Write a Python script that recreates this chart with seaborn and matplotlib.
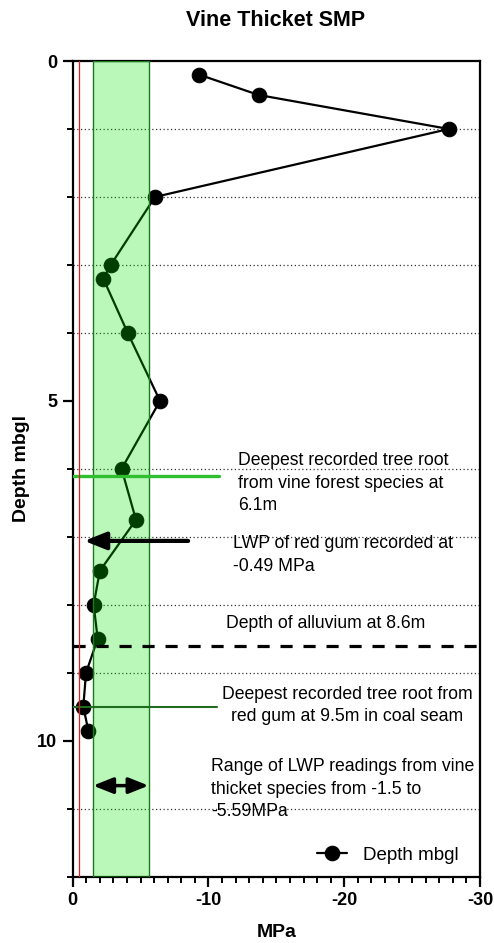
import matplotlib
matplotlib.use("Agg")
import matplotlib.pyplot as plt
import seaborn as sns
import numpy as np
import pandas as pd
from matplotlib.ticker import MultipleLocator, FixedLocator

# Soil matric potential profile (MPa) against depth below ground level (m)
depth_m = [0.2, 0.5, 1.0, 2.0, 3.0, 3.2, 4.0, 5.0, 6.0, 6.75, 7.5, 8.0, 8.5, 9.0, 9.5, 9.85]
smp_mpa = [-9.3, -13.7, -27.7, -6.06, -2.8, -2.25, -4.05, -6.43, -3.6, -4.66, -2.0, -1.54, -1.84, -0.98, -0.78, -1.15]

# Reference values quoted in the annotations
red_gum_lwp = -0.49
vine_lwp_range = (-1.5, -5.59)
vine_root_depth = 6.1
red_gum_root_depth = 9.5
alluvium_depth = 8.6

x_ticks = [0, -10, -20, -30]
y_ticks = [0, 5, 10]

sns.set_style("white")
plt.rcParams["font.family"] = ["Liberation Sans", "DejaVu Sans"]
plt.rcParams["text.color"] = "black"
plt.rcParams["axes.labelcolor"] = "black"
plt.rcParams["xtick.color"] = "black"
plt.rcParams["ytick.color"] = "black"

df = pd.DataFrame({"MPa": smp_mpa, "Depth mbgl": depth_m})

fig = plt.figure(figsize=(4.94, 9.43), dpi=100)
ax = fig.add_axes([0.1472, 0.0703, 0.8245, 0.8650])

sns.lineplot(data=df, x="MPa", y="Depth mbgl", sort=False, estimator=None,
             color="black", lw=1.6, marker="o", markersize=10.5,
             markeredgecolor="black", label="Depth mbgl", ax=ax, zorder=3)

ax.set_xlim(0, -30)
ax.set_ylim(12, 0)

# dotted guides at the minor depth ticks
for d in [1, 2, 3, 4, 6, 7, 8, 9, 11]:
    ax.axhline(d, color="#333333", lw=0.9, linestyle=(0, (1, 2)), zorder=1)

# LWP range band for vine thicket species
ax.axvspan(vine_lwp_range[0], vine_lwp_range[1], facecolor=(0.0, 0.9, 0.0, 0.27),
           edgecolor="#1c7a1c", lw=1.0, zorder=4)

# red gum LWP
ax.axvline(red_gum_lwp, color="#e02020", lw=0.9, zorder=6)

# rooting depths and alluvium depth
ax.plot([0, -10.8], [vine_root_depth, vine_root_depth], color="#2fbf2f", lw=2.4, zorder=5)
ax.plot([0, -10.6], [red_gum_root_depth, red_gum_root_depth], color="#1f6b1f", lw=1.5, zorder=5)
ax.axhline(alluvium_depth, color="black", lw=2.3, linestyle=(0, (3.8, 3.4)), zorder=5)

# arrows
ax.annotate("", xy=(-0.85, 7.06), xytext=(-8.5, 7.06),
            arrowprops=dict(arrowstyle="-|>,head_length=0.55,head_width=0.22",
                            lw=3, color="black", mutation_scale=24, shrinkA=0, shrinkB=0),
            zorder=7)
ax.annotate("", xy=(vine_lwp_range[0], 10.66), xytext=(vine_lwp_range[1], 10.66),
            arrowprops=dict(arrowstyle="<|-|>,head_length=0.5,head_width=0.2",
                            lw=2.5, color="black", mutation_scale=24, shrinkA=0, shrinkB=0),
            zorder=7)

txt = dict(fontsize=12.7, color="black", linespacing=1.42, zorder=8)
ax.text(-12.15, 5.755, "Deepest recorded tree root\nfrom vine forest species at\n6.1m",
        ha="left", va="top", **txt)
ax.text(-11.8, 6.975, "LWP of red gum recorded at\n-0.49 MPa", ha="left", va="top", **txt)
ax.text(-11.27, 8.155, "Depth of alluvium at 8.6m", ha="left", va="top", **txt)
ax.text(-20.2, 9.195, "Deepest recorded tree root from\nred gum at 9.5m in coal seam",
        ha="center", va="top", multialignment="center", **txt)
ax.text(-10.18, 10.255, "Range of LWP readings from vine\nthicket species from -1.5 to\n-5.59MPa",
        ha="left", va="top", **txt)

# axes styling
ax.xaxis.set_major_locator(FixedLocator(x_ticks))
ax.xaxis.set_minor_locator(MultipleLocator(1))
ax.yaxis.set_major_locator(FixedLocator(y_ticks))
ax.yaxis.set_minor_locator(MultipleLocator(1))
ax.tick_params(axis="both", which="major", length=7, width=1.6, direction="out",
               labelsize=13, pad=4, left=True, bottom=True)
ax.tick_params(axis="both", which="minor", length=4, width=1.4, direction="out",
               left=True, bottom=True)
ax.set_xticklabels([str(v) for v in x_ticks], fontweight="bold")
ax.set_yticklabels([str(v) for v in y_ticks], fontweight="bold")
for s in ax.spines.values():
    s.set_visible(True)
    s.set_color("black")
    s.set_linewidth(1.6)
ax.grid(False)

ax.set_xlabel("MPa", fontsize=14, fontweight="bold", labelpad=11)
ax.set_ylabel("Depth mbgl", fontsize=14, fontweight="bold", labelpad=5)
fig.text(276 / 494, 1 - 21 / 943, "Vine Thicket SMP", ha="center", va="center",
         fontsize=15.5, fontweight="bold")

leg = ax.legend(loc="lower right", bbox_to_anchor=(0.99, -0.005), frameon=False,
                fontsize=13.5, handlelength=1.6, handletextpad=0.9)

fig.savefig("out.png", dpi=100)
